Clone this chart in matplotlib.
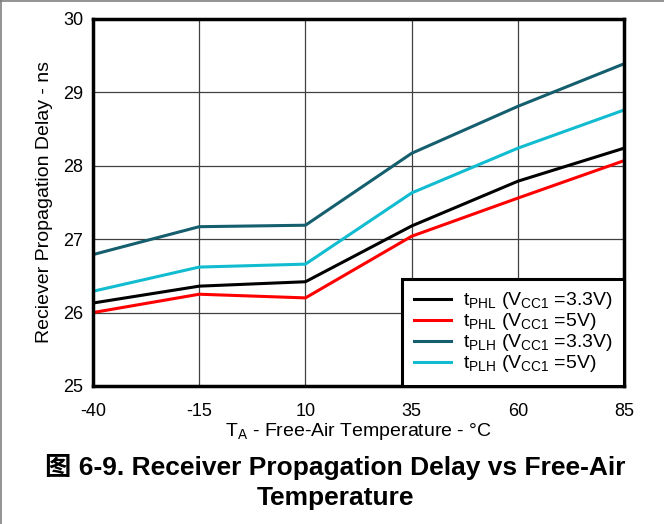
import matplotlib
matplotlib.use("Agg")
import matplotlib.pyplot as plt
from matplotlib.lines import Line2D

plt.rcParams['font.family'] = ['Liberation Sans', 'Noto Sans CJK SC', 'DejaVu Sans']
plt.rcParams['mathtext.fontset'] = 'custom'
plt.rcParams['mathtext.rm'] = 'Liberation Sans'

temps = [-40, -15, 10, 35, 60, 85]
tphl_33 = [26.13, 26.36, 26.42, 27.18, 27.79, 28.24]
tphl_5 = [26.00, 26.25, 26.20, 27.04, 27.56, 28.07]
tplh_33 = [26.79, 27.17, 27.19, 28.17, 28.81, 29.39]
tplh_5 = [26.29, 26.62, 26.66, 27.63, 28.24, 28.76]

labels = [r'$\mathregular{t_{PHL}}$ ($\mathregular{V_{CC1}}$ =3.3V)',
          r'$\mathregular{t_{PHL}}$ ($\mathregular{V_{CC1}}$ =5V)',
          r'$\mathregular{t_{PLH}}$ ($\mathregular{V_{CC1}}$ =3.3V)',
          r'$\mathregular{t_{PLH}}$ ($\mathregular{V_{CC1}}$ =5V)']
colors = ['#000000', '#ff0000', '#155e6e', '#12bcd0']

fig = plt.figure(figsize=(6.64, 5.24), dpi=100)
ax = fig.add_axes([0.140, 0.2634, 0.800, 0.7004])

for series, lab, c in zip([tphl_33, tphl_5, tplh_33, tplh_5], labels, colors):
    ax.plot(temps, series, color=c, lw=2.2, label=lab, zorder=3)

ax.set_xlim(-40, 85)
ax.set_ylim(25, 30)
ax.set_xticks(temps)
ax.set_xticklabels([str(t) for t in temps])
ax.set_yticks([25, 26, 27, 28, 29, 30])
ax.grid(True, color='#404040', lw=0.9)
ax.tick_params(length=0, labelsize=13)
ax.tick_params(axis='x', pad=12)
ax.tick_params(axis='y', pad=7)
for s in ax.spines.values():
    s.set_linewidth(2.5)
    s.set_zorder(5)

ax.set_ylabel('Reciever Propagation Delay - ns', fontsize=14, labelpad=7)
ax.set_xlabel(r'T$\mathregular{_A}$ - Free-Air Temperature - °C', fontsize=14, labelpad=1)

leg = ax.legend(loc='lower right', bbox_to_anchor=(1.0, 0.0), fontsize=14,
                fancybox=False, framealpha=1, edgecolor='black',
                handlelength=1.9, labelspacing=0.0, borderpad=0.6,
                borderaxespad=0.0, handletextpad=0.6)
leg.get_frame().set_linewidth(2.2)
leg.set_zorder(6)

fig.text(0.505, 0.108, '图 6-9. Receiver Propagation Delay vs Free-Air',
         ha='center', va='center', fontsize=19, fontweight='bold')
fig.text(0.505, 0.049, 'Temperature', ha='center', va='center',
         fontsize=19, fontweight='bold')

# page border
fig.add_artist(Line2D([0, 1], [0.999, 0.999], transform=fig.transFigure,
                      color='#808080', lw=1.2))
fig.add_artist(Line2D([0.001, 0.001], [0, 1], transform=fig.transFigure,
                      color='#808080', lw=1.2))

fig.savefig('out.png', dpi=100)
